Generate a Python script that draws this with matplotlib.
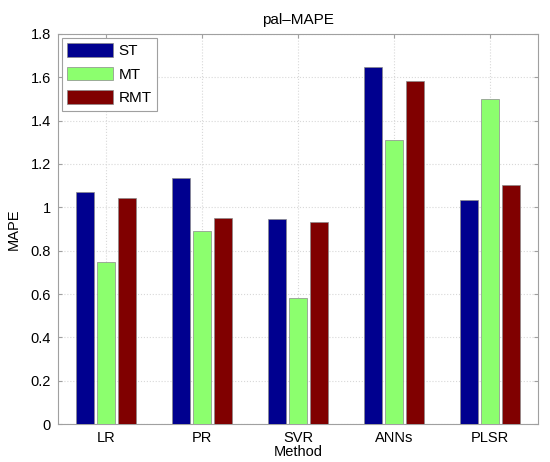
import matplotlib
matplotlib.use("Agg")
import matplotlib.pyplot as plt
import numpy as np

plt.rcParams['font.family'] = ['Liberation Sans', 'DejaVu Sans']

# 数据
methods = ['LR', 'PR', 'SVR', 'ANNs', 'PLSR']
series_names = ['ST', 'MT', 'RMT']
st_values = [1.072, 1.134, 0.945, 1.65, 1.034]
mt_values = [0.748, 0.891, 0.58, 1.31, 1.50]
rmt_values = [1.041, 0.949, 0.931, 1.585, 1.103]
colors = ['#00008F', '#8CFF6E', '#800000']

fig = plt.figure(figsize=(5.5, 4.62), dpi=100)
ax = fig.add_axes([58 / 550, 38 / 462, 480 / 550, 390 / 462])

x = np.arange(1, len(methods) + 1)
width = 0.19
offset = 0.215
for i, (vals, name, col) in enumerate(zip([st_values, mt_values, rmt_values],
                                          series_names, colors)):
    ax.bar(x + (i - 1) * offset, vals, width, color=col, label=name,
           edgecolor='#8a8a8a', linewidth=0.5, zorder=3)

ax.set_xlim(0.5, 5.5)
ax.set_ylim(0, 1.8)
ax.set_xticks(x)
ax.set_xticklabels(methods)
ax.set_yticks(np.arange(0, 1.81, 0.2))
ax.set_yticklabels(['0', '0.2', '0.4', '0.6', '0.8', '1', '1.2', '1.4', '1.6', '1.8'])

# 网格和坐标轴样式
ax.grid(True, linestyle=':', color='#d8d8d8', linewidth=0.8, zorder=0)
for sp in ax.spines.values():
    sp.set_color('#a0a0a0')
    sp.set_linewidth(0.8)
ax.tick_params(direction='in', length=3, color='#a0a0a0', labelsize=10.5,
               top=True, right=True, pad=5)

ax.set_title('pal\u2013MAPE', fontsize=11, pad=7)
ax.set_xlabel('Method', fontsize=10.5, labelpad=0)
ax.set_ylabel('MAPE', fontsize=10.5, labelpad=7)

leg = ax.legend(loc='upper left', fontsize=11, handlelength=3.0, handleheight=1.0,
                fancybox=False, framealpha=1, borderaxespad=0.25,
                borderpad=0.35, labelspacing=0.55, handletextpad=0.35)
leg.get_frame().set_edgecolor('#a0a0a0')
leg.get_frame().set_linewidth(0.8)

fig.savefig('out.png', dpi=100)
